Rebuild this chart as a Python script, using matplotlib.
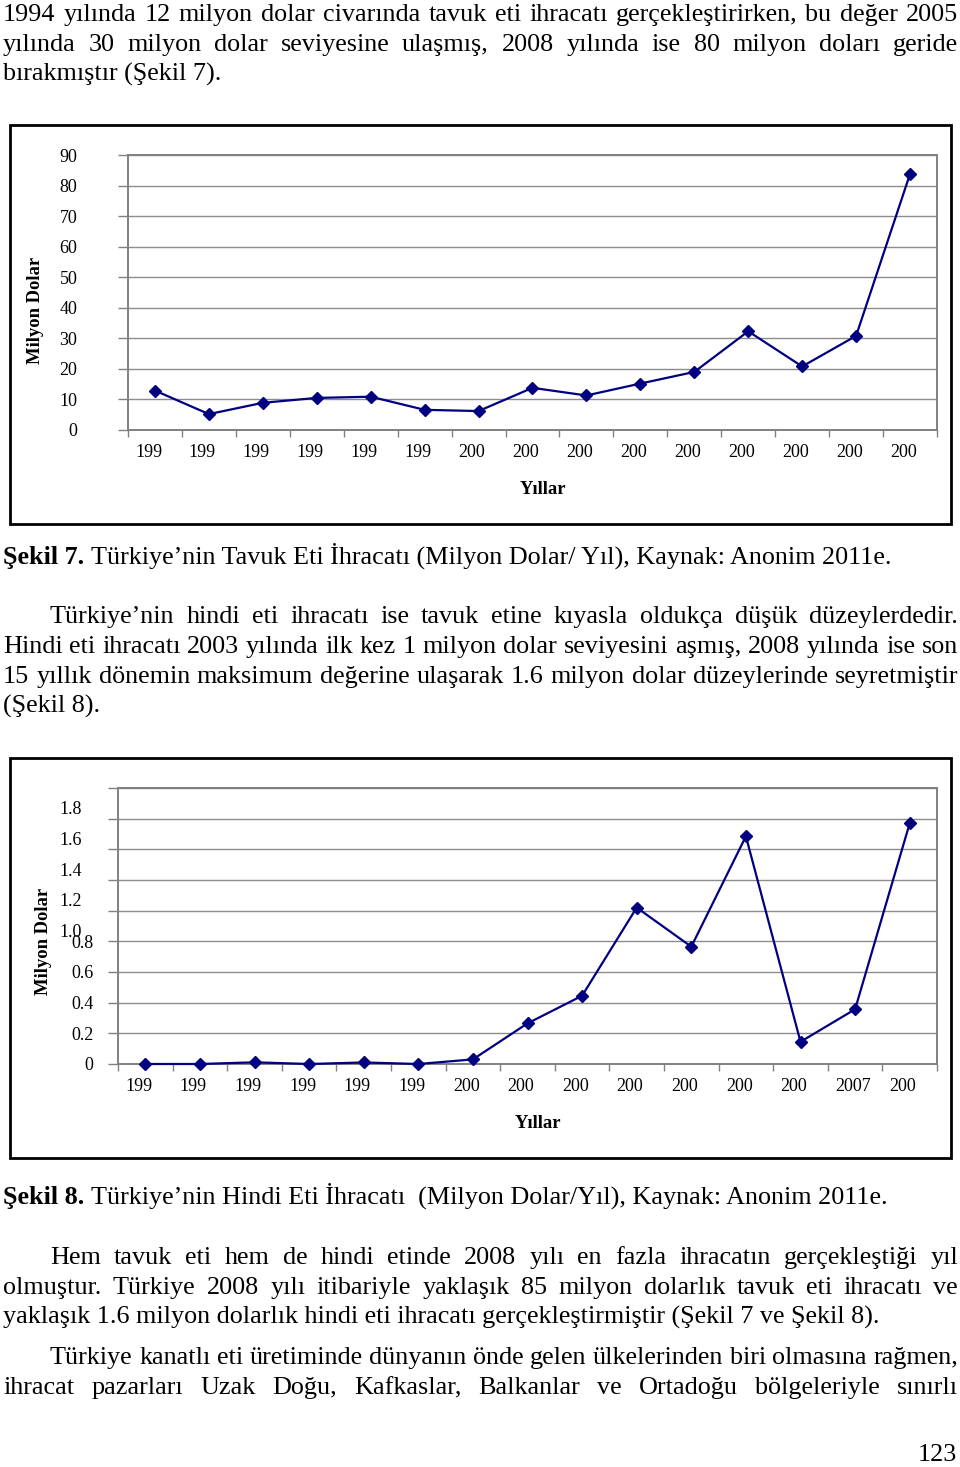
import numpy as np
import matplotlib
matplotlib.use('Agg')
import matplotlib.pyplot as plt
from matplotlib.patches import Rectangle
from matplotlib.transforms import ScaledTranslation

plt.rcParams['font.family'] = ['Liberation Serif', 'DejaVu Serif']

W, H = 960, 1467
DPI = 100
BODY = 18.8
TICK = 13
LAB = 13.4

# --- data -------------------------------------------------------------
years = list(range(1994, 2009))
tavuk = [12.9, 5.2, 8.9, 10.5, 10.9, 6.6, 6.2, 13.8, 11.3, 15.2, 19.0, 32.3, 20.8, 30.8, 83.8]
hindi = [0.0, 0.0, 0.011, 0.0, 0.01, 0.0, 0.03, 0.265, 0.445, 1.02, 0.765, 1.485, 0.145, 0.357, 1.57]

xlab_tavuk = ['199', '199', '199', '199', '199', '199', '200', '200', '200',
              '200', '200', '200', '200', '200', '200']
xlab_hindi = ['199', '199', '199', '199', '199', '199', '200', '200', '200',
              '200', '200', '200', '200', '2007', '200']

yt_tavuk = [0, 10, 20, 30, 40, 50, 60, 70, 80, 90]
yl_tavuk = ['0', '10', '20', '30', '40', '50', '60', '70', '80', '90']
yt_hindi = [0, 0.2, 0.4, 0.6, 0.8, 1.0, 1.2, 1.4, 1.6, 1.8]
yl_hindi = ['0', '0.2', '0.4', '0.6', '0.8', '1.0', '1.2', '1.4', '1.6', '1.8']

fig = plt.figure(figsize=(W / DPI, H / DPI), dpi=DPI)
r = fig.canvas.get_renderer()


def fx(x):
    return x / W


def fy(y):
    return 1 - y / H


def px_axes(left, top, right, bottom):
    return fig.add_axes([fx(left), fy(bottom), (right - left) / W, (bottom - top) / H])


def frame(left, top, right, bottom):
    fig.add_artist(Rectangle((fx(left), fy(bottom)), (right - left) / W, (bottom - top) / H,
                             transform=fig.transFigure, fill=False, ec='black', lw=2))


def chart(ax, vals, ymax, yt, yl, xl, ypad):
    n = len(vals)
    ax.plot(range(n), vals, color='#000080', lw=1.6, marker='D', ms=6.5,
            mfc='#000080', mec='#000080', clip_on=False, zorder=3)
    ax.set_xlim(-0.5, n - 0.5)
    ax.set_ylim(0, ymax)
    ax.set_yticks(yt)
    ax.set_yticklabels(yl)
    ax.yaxis.grid(True, color='#8c8c8c', lw=1.0)
    ax.set_axisbelow(True)
    ax.set_xticks(range(n))
    ax.set_xticklabels(xl, ha='left')
    ax.set_xticks(np.arange(-0.5, n, 1), minor=True)
    ax.tick_params(axis='x', which='major', length=0, pad=10, labelsize=TICK)
    ax.tick_params(axis='x', which='minor', length=5, color='#808080', width=1)
    ax.tick_params(axis='y', length=7, color='#808080', width=1, pad=ypad, labelsize=TICK)
    for s in ax.spines.values():
        s.set_color('#808080')
        s.set_linewidth(1.4)
    off = ScaledTranslation(-0.20, 0, fig.dpi_scale_trans)
    for lab in ax.get_xticklabels():
        lab.set_transform(lab.get_transform() + off)


# --- Şekil 7 ------------------------------------------------------------
frame(10, 124.5, 951, 524)
ax1 = px_axes(128, 155, 937, 430)
chart(ax1, tavuk, 90, yt_tavuk, yl_tavuk, xlab_tavuk, 29.5)
fig.text(fx(36), fy(310), 'Milyon Dolar', rotation=90, ha='center', va='center',
         fontsize=LAB, fontweight='bold')
fig.text(fx(543), fy(490), 'Yıllar', ha='center', va='center', fontsize=LAB, fontweight='bold')

# --- Şekil 8 ------------------------------------------------------------
frame(10, 758, 951, 1158)
ax2 = px_axes(118, 788, 937, 1064)
chart(ax2, hindi, 1.8, yt_hindi, yl_hindi, xlab_hindi, 10.8)
# upper labels sit lower/left than their gridlines in the original
shift = ScaledTranslation(-0.11, -0.20, fig.dpi_scale_trans)
for lab in ax2.get_yticklabels()[5:]:
    lab.set_transform(lab.get_transform() + shift)
fig.text(fx(43), fy(941), 'Milyon Dolar', rotation=90, ha='center', va='center',
         fontsize=LAB, fontweight='bold')
fig.text(fx(538), fy(1124), 'Yıllar', ha='center', va='center', fontsize=LAB, fontweight='bold')


# --- page text ----------------------------------------------------------
def width(s, weight='normal'):
    t = fig.text(0, 0, s, fontsize=BODY, fontweight=weight)
    w = t.get_window_extent(r).width
    t.remove()
    return w


SPACE = width('x x') - width('xx')


def line(s, y, x0=3, x1=None):
    base = y + 8
    words = s.split()
    if x1 is None:
        fig.text(fx(x0), fy(base), s, fontsize=BODY, va='baseline')
        return
    ws = [width(w) for w in words]
    gap = (x1 - x0 - sum(ws)) / (len(words) - 1)
    x = x0
    for w, ww in zip(words, ws):
        fig.text(fx(x), fy(base), w, fontsize=BODY, va='baseline')
        x += ww + gap


def caption(bold, rest, y, x0=3):
    base = y + 8
    fig.text(fx(x0), fy(base), bold, fontsize=BODY, fontweight='bold', va='baseline')
    x = x0 + width(bold, 'bold') + SPACE
    fig.text(fx(x), fy(base), rest, fontsize=BODY, va='baseline')


R = 958
line('1994 yılında 12 milyon dolar civarında tavuk eti ihracatı gerçekleştirirken, bu değer 2005', 13, 3, R)
line('yılında 30 milyon dolar seviyesine ulaşmış, 2008 yılında ise 80 milyon doları geride', 43, 3, R)
line('bırakmıştır (Şekil 7).', 73)

caption('Şekil 7.', 'Türkiye’nin Tavuk Eti İhracatı (Milyon Dolar/ Yıl), Kaynak: Anonim 2011e.', 556)

line('Türkiye’nin hindi eti ihracatı ise tavuk etine kıyasla oldukça düşük düzeylerdedir.', 615, 50, R)
line('Hindi eti ihracatı 2003 yılında ilk kez 1 milyon dolar seviyesini aşmış, 2008 yılında ise son', 645, 3, R)
line('15 yıllık dönemin maksimum değerine ulaşarak 1.6 milyon dolar düzeylerinde seyretmiştir', 675, 3, R)
line('(Şekil 8).', 705)

caption('Şekil 8.', 'Türkiye’nin Hindi Eti İhracatı  (Milyon Dolar/Yıl), Kaynak: Anonim 2011e.', 1196)

line('Hem tavuk eti hem de hindi etinde 2008 yılı en fazla ihracatın gerçekleştiği yıl', 1256, 50, R)
line('olmuştur. Türkiye 2008 yılı itibariyle yaklaşık 85 milyon dolarlık tavuk eti ihracatı ve', 1286, 3, R)
line('yaklaşık 1.6 milyon dolarlık hindi eti ihracatı gerçekleştirmiştir (Şekil 7 ve Şekil 8).', 1316)

line('Türkiye kanatlı eti üretiminde dünyanın önde gelen ülkelerinden biri olmasına rağmen,', 1356, 50, R)
line('ihracat pazarları Uzak Doğu, Kafkaslar, Balkanlar ve Ortadoğu bölgeleriyle sınırlı', 1386, 3, R)

fig.text(fx(957), fy(1461), '123', fontsize=BODY, ha='right', va='baseline')

fig.savefig('out.png', dpi=DPI)
